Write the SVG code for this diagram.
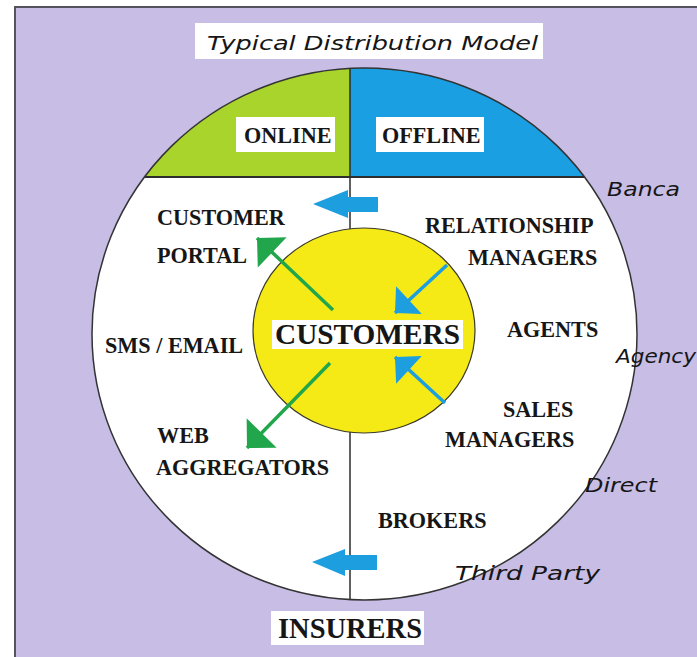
<svg xmlns="http://www.w3.org/2000/svg" width="697" height="657" viewBox="0 0 697 657">
  <defs>
    <style>
      .lbl { font-family: "Liberation Serif", "DejaVu Serif", serif; font-weight: bold; fill: #161616; font-size: 22.2px; }
      .big { font-size: 28.5px; }
      .hand { font-family: "DejaVu Sans", "Liberation Sans", sans-serif; font-style: oblique; fill: #161616; font-size: 20px; }
      .box { fill: #ffffff; }
      .gline { stroke: #21a64b; stroke-width: 3.5; fill: none; }
      .bline { stroke: #1c9edf; stroke-width: 3.5; fill: none; }
      .block { fill: #1c9edf; }
    </style>
    <marker id="gHead" markerUnits="userSpaceOnUse" markerWidth="24" markerHeight="44" viewBox="0 -21 22 42" refX="20" refY="0" orient="auto">
      <path d="M0,-20 L20,0 L0,20 Z" fill="#21a64b"/>
    </marker>
    <marker id="bHead" markerUnits="userSpaceOnUse" markerWidth="22" markerHeight="40" viewBox="0 -19 20 38" refX="18" refY="0" orient="auto">
      <path d="M0,-18 L18,0 L0,18 Z" fill="#1c9edf"/>
    </marker>
  </defs>

  <!-- background frame -->
  <rect x="0" y="0" width="697" height="657" fill="#ffffff"/>
  <rect x="15" y="7" width="700" height="670" fill="#c7bde5" stroke="#55535e" stroke-width="2"/>

  <!-- title -->
  <g id="title">
    <rect class="box" x="195" y="23" width="348" height="36"/>
    <text class="hand" x="207" y="50" textLength="331" lengthAdjust="spacingAndGlyphs">Typical Distribution Model</text>
  </g>

  <!-- main circle -->
  <g id="market">
    <ellipse cx="364.5" cy="334" rx="272.5" ry="266" fill="#ffffff"/>
    <path d="M144.5,177 A272.5,266 0 0 1 350,68.4 L350,177 Z" fill="#a8d42b"/>
    <path d="M350,68.4 A272.5,266 0 0 1 584.5,177 L350,177 Z" fill="#1a9fe2"/>
    <line x1="144.5" y1="177" x2="584.5" y2="177" stroke="#2d2d2d" stroke-width="2"/>
    <line x1="350" y1="68" x2="350" y2="600" stroke="#2d2d2d" stroke-width="1.5"/>
    <ellipse cx="364.5" cy="334" rx="272.5" ry="266" fill="none" stroke="#333333" stroke-width="1.5"/>
  </g>

  <g id="online">
    <rect class="box" x="236" y="117" width="99" height="35"/>
    <text class="lbl" x="244" y="143">ONLINE</text>
  </g>
  <g id="offline">
    <rect class="box" x="376" y="117" width="108" height="35"/>
    <text class="lbl" x="382" y="143">OFFLINE</text>
  </g>

  <!-- customers -->
  <g id="customers">
    <ellipse cx="364" cy="330.5" rx="111" ry="102.5" fill="#f6ea16" stroke="#3a3a2a" stroke-width="1.2"/>
    <rect class="box" x="272" y="320" width="191" height="29"/>
    <text class="lbl big" x="275" y="344" textLength="185" lengthAdjust="spacingAndGlyphs">CUSTOMERS</text>
  </g>

  <!-- online channels -->
  <g id="customer-portal">
    <text class="lbl" x="157" y="225">CUSTOMER</text>
    <text class="lbl" x="157" y="263">PORTAL</text>
  </g>
  <g id="sms-email">
    <text class="lbl" x="105" y="353">SMS / EMAIL</text>
  </g>
  <g id="web-aggregators">
    <text class="lbl" x="157" y="443">WEB</text>
    <text class="lbl" x="156" y="475">AGGREGATORS</text>
  </g>

  <!-- offline channels -->
  <g id="relationship-managers">
    <text class="lbl" x="425" y="233">RELATIONSHIP</text>
    <text class="lbl" x="468" y="265">MANAGERS</text>
  </g>
  <g id="agents">
    <text class="lbl" x="507" y="337">AGENTS</text>
  </g>
  <g id="sales-managers">
    <text class="lbl" x="503" y="417">SALES</text>
    <text class="lbl" x="445" y="447">MANAGERS</text>
  </g>
  <g id="brokers">
    <text class="lbl" x="378" y="528">BROKERS</text>
  </g>

  <!-- channel names -->
  <g id="banca"><text class="hand" x="607" y="196" textLength="73" lengthAdjust="spacingAndGlyphs">Banca</text></g>
  <g id="agency"><text class="hand" x="616" y="363" textLength="80" lengthAdjust="spacingAndGlyphs">Agency</text></g>
  <g id="direct"><text class="hand" x="585" y="492" textLength="72" lengthAdjust="spacingAndGlyphs">Direct</text></g>
  <g id="third-party"><text class="hand" x="455" y="580" textLength="145" lengthAdjust="spacingAndGlyphs">Third Party</text></g>

  <!-- insurers -->
  <g id="insurers">
    <rect class="box" x="271" y="611" width="153" height="34"/>
    <text class="lbl big" x="278" y="638" textLength="144" lengthAdjust="spacingAndGlyphs">INSURERS</text>
  </g>

  <!-- connectors -->
  <g id="connectors">
    <line class="gline" x1="333" y1="310" x2="257" y2="238" marker-end="url(#gHead)"/>
    <line class="gline" x1="330" y1="363" x2="247" y2="448" marker-end="url(#gHead)"/>
    <line class="bline" x1="447" y1="265" x2="395" y2="313" marker-end="url(#bHead)"/>
    <line class="bline" x1="445" y1="403" x2="395" y2="357" marker-end="url(#bHead)"/>
    <polygon class="block" points="313,204 348,190 348,197 378,197 378,212 348,212 348,218"/>
    <polygon class="block" points="312,562 345,549 345,555 377,555 377,570 345,570 345,576"/>
  </g>
</svg>
